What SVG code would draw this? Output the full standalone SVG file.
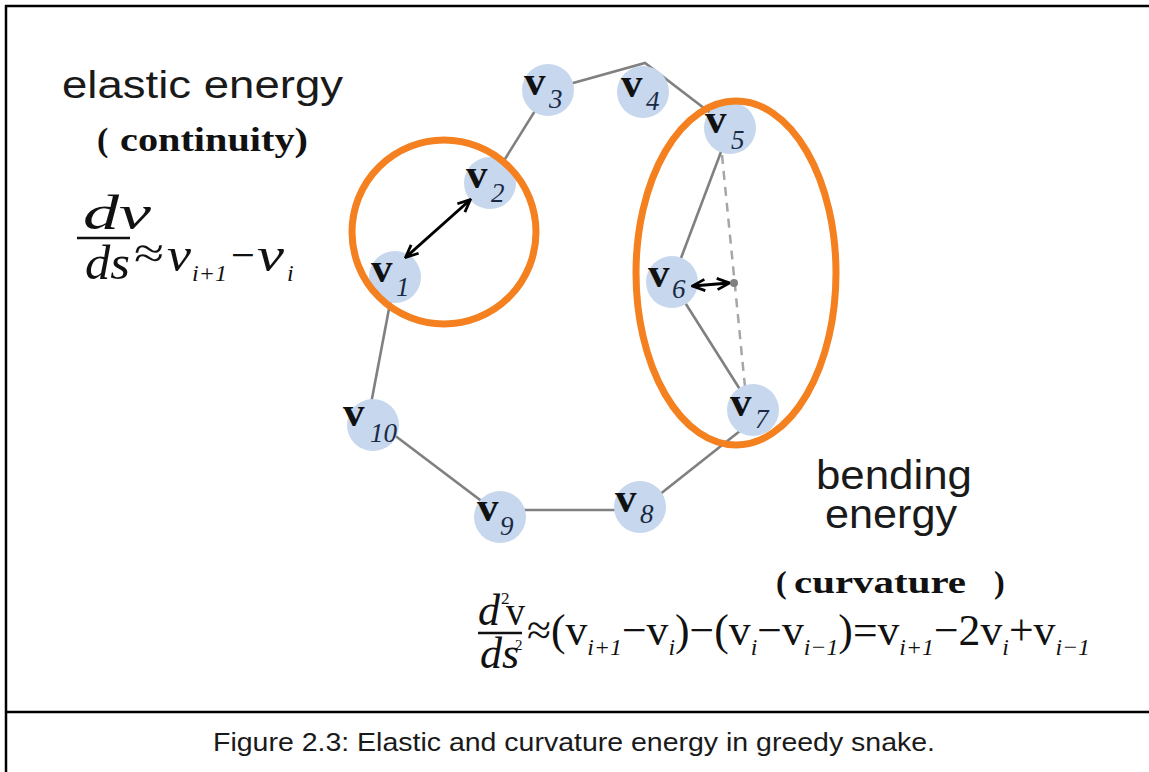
<svg xmlns="http://www.w3.org/2000/svg" width="1149" height="772" viewBox="0 0 1149 772">
<defs>
<style>
.frame{stroke:#000;stroke-width:2.5;fill:none}
.edge{stroke:#808080;stroke-width:2.6;fill:none}
.dash{stroke:#a6a6a6;stroke-width:2.5;fill:none;stroke-dasharray:9 7}
.arrow{stroke:#000;stroke-width:3;fill:none;marker-start:url(#ah);marker-end:url(#ah)}
.node circle{fill:#c6d7ee}
.ring{fill:none;stroke:#f4801f;stroke-width:7}
.sans{font-family:"Liberation Sans",Arial,sans-serif;fill:#1a1a1a}
.serif{font-family:"Liberation Serif","Times New Roman",serif;fill:#111}
.vb{font-family:"Liberation Serif","Times New Roman",serif;font-weight:bold;font-size:43px;fill:#111}
.vs{font-family:"Liberation Serif","Times New Roman",serif;font-style:italic;font-size:27px;fill:#1a2a44}
.it{font-style:italic}
.bd{font-weight:bold}
</style>
<marker id="ah" viewBox="0 0 12 12" refX="10.5" refY="6" markerWidth="5" markerHeight="5" orient="auto-start-reverse" markerUnits="strokeWidth">
<path d="M1,1.5 L11,6 L1,10.5" fill="none" stroke="#000" stroke-width="2.2"/>
</marker>
</defs>
<rect width="1149" height="772" fill="#fff"/>
<g id="frame">
<line class="frame" x1="5" y1="6" x2="1149" y2="6"/>
<line class="frame" x1="6" y1="5" x2="6" y2="772"/>
<line class="frame" x1="6" y1="712" x2="1149" y2="712"/>
</g>
<g id="connectors">
<line class="edge" x1="490" y1="183" x2="548" y2="90"/>
<polyline class="edge" points="548,90 645,63 730,128"/>
<line class="edge" x1="730" y1="128" x2="672" y2="282"/>
<line class="edge" x1="672" y1="282" x2="753" y2="410"/>
<line class="edge" x1="745" y1="427" x2="640" y2="510"/>
<line class="edge" x1="640" y1="510" x2="500" y2="510"/>
<line class="edge" x1="500" y1="515" x2="373" y2="419"/>
<line class="edge" x1="367" y1="425" x2="395" y2="277"/>
<line class="dash" x1="722" y1="155" x2="745" y2="387"/>
</g>
<g id="v1" class="node"><circle cx="395" cy="277" r="26"/><text class="vb" x="371" y="282">v</text><text class="vs" x="396" y="296">1</text></g>
<g id="v2" class="node"><circle cx="490" cy="183" r="26"/><text class="vb" x="466" y="188">v</text><text class="vs" x="491" y="202">2</text></g>
<g id="v3" class="node"><circle cx="548" cy="90" r="26"/><text class="vb" x="524" y="95">v</text><text class="vs" x="549" y="108">3</text></g>
<g id="v4" class="node"><circle cx="643" cy="92" r="26"/><text class="vb" x="621" y="97">v</text><text class="vs" x="646" y="110">4</text></g>
<g id="v5" class="node"><circle cx="730" cy="128" r="26"/><text class="vb" x="705" y="133">v</text><text class="vs" x="731" y="149">5</text></g>
<g id="v6" class="node"><circle cx="672" cy="282" r="26"/><text class="vb" x="648" y="287">v</text><text class="vs" x="672" y="298">6</text></g>
<g id="v7" class="node"><circle cx="753" cy="410" r="26"/><text class="vb" x="730" y="416">v</text><text class="vs" x="755" y="428">7</text></g>
<g id="v8" class="node"><circle cx="640" cy="507" r="26"/><text class="vb" x="615" y="512">v</text><text class="vs" x="640" y="523">8</text></g>
<g id="v9" class="node"><circle cx="500" cy="517" r="26"/><text class="vb" x="477" y="521">v</text><text class="vs" x="500" y="535">9</text></g>
<g id="v10" class="node"><circle cx="373" cy="425" r="26"/><text class="vb" x="343" y="426">v</text><text class="vs" x="370" y="442">10</text></g>
<g id="annotations">
<circle class="ring" cx="444" cy="232" r="92"/>
<ellipse class="ring" cx="736" cy="273" rx="100" ry="172"/>
<line class="arrow" x1="406" y1="257" x2="470" y2="200"/>
<line class="arrow" x1="693" y1="286" x2="729" y2="283"/>
<circle cx="734" cy="283" r="4" fill="#808080"/>
</g>
<g id="elastic">
<text class="sans" x="62" y="98" font-size="38" textLength="281" lengthAdjust="spacingAndGlyphs">elastic energy</text>
<text class="serif bd" x="97" y="151" font-size="34">(<tspan x="120" textLength="188" lengthAdjust="spacingAndGlyphs">continuity)</tspan></text>
<text class="serif it" x="83" y="229" font-size="48" textLength="68" lengthAdjust="spacingAndGlyphs">dν</text>
<line x1="77" y1="238" x2="130" y2="238" stroke="#111" stroke-width="2.5"/>
<text class="serif it" x="85" y="279" font-size="48" textLength="45" lengthAdjust="spacingAndGlyphs">ds</text>
<text class="serif" x="134" y="268" font-size="44" textLength="30" lengthAdjust="spacingAndGlyphs">≈</text>
<text class="serif it" x="167" y="271" font-size="48" textLength="24" lengthAdjust="spacingAndGlyphs">ν</text>
<text class="serif it" x="192" y="281" font-size="24" textLength="35" lengthAdjust="spacingAndGlyphs">i+1</text>
<text class="serif" x="231" y="270" font-size="44" textLength="24" lengthAdjust="spacingAndGlyphs">−</text>
<text class="serif it" x="257" y="271" font-size="48" textLength="27" lengthAdjust="spacingAndGlyphs">ν</text>
<text class="serif it" x="287" y="281" font-size="24">i</text>
</g>
<g id="bending">
<text class="sans" x="816" y="489" font-size="41" textLength="156" lengthAdjust="spacingAndGlyphs">bending</text>
<text class="sans" x="825" y="528" font-size="41" textLength="132" lengthAdjust="spacingAndGlyphs">energy</text>
<text class="serif bd" x="776" y="593" font-size="32">(<tspan x="794" textLength="172" lengthAdjust="spacingAndGlyphs">curvature</tspan><tspan x="994">)</tspan></text>
<text class="serif it" x="478" y="625" font-size="44">d</text>
<text class="serif" x="501" y="604" font-size="17">2</text>
<text class="serif" x="506" y="625" font-size="42" textLength="19" lengthAdjust="spacingAndGlyphs">v</text>
<line x1="478" y1="633" x2="522" y2="633" stroke="#111" stroke-width="2.5"/>
<text class="serif it" x="480" y="668" font-size="44">ds</text>
<text class="serif" x="515" y="650" font-size="15">2</text>
<text class="serif" x="527" y="645" font-size="44" textLength="563" lengthAdjust="spacingAndGlyphs">≈(v<tspan class="it" font-size="24" dy="10">i+1</tspan><tspan dy="-10">−v</tspan><tspan class="it" font-size="24" dy="10">i</tspan><tspan dy="-10">)−(v</tspan><tspan class="it" font-size="24" dy="10">i</tspan><tspan dy="-10">−v</tspan><tspan class="it" font-size="24" dy="10">i−1</tspan><tspan dy="-10">)=v</tspan><tspan class="it" font-size="24" dy="10">i+1</tspan><tspan dy="-10">−2v</tspan><tspan class="it" font-size="24" dy="10">i</tspan><tspan dy="-10">+v</tspan><tspan class="it" font-size="24" dy="10">i−1</tspan></text>
</g>
<text class="sans" x="213" y="751" font-size="25" textLength="722" lengthAdjust="spacingAndGlyphs">Figure 2.3: Elastic and curvature energy in greedy snake.</text>
</svg>
